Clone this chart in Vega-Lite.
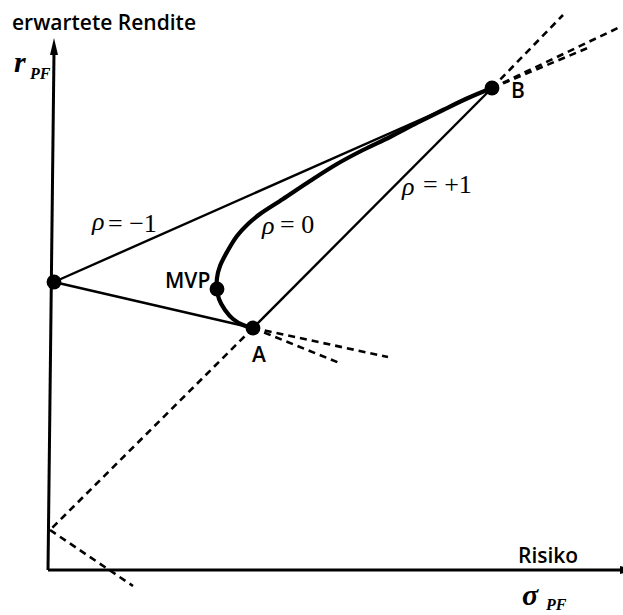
{
  "$schema": "https://vega.github.io/schema/vega-lite/v6.json",
  "width": 623,
  "height": 615,
  "autosize": {"type": "none"},
  "padding": 0,
  "background": "white",
  "config": {"view": {"stroke": null}},
  "datasets": {
    "axes": [
      {"seg": "y", "ord": 0, "x": 0, "y": 0},
      {"seg": "y", "ord": 1, "x": 0.6, "y": 51.8},
      {"seg": "x", "ord": 0, "x": 0, "y": 0},
      {"seg": "x", "ord": 1, "x": 57.5, "y": 0}
    ],
    "arrows": [
      {"dir": "up", "x": 0.6, "y": 52.35},
      {"dir": "right", "x": 58.05, "y": 0}
    ],
    "lines": [
      {"seg": "m1a", "ord": 0, "x": 0.6, "y": 28.8},
      {"seg": "m1a", "ord": 1, "x": 44.4, "y": 48.2},
      {"seg": "m1b", "ord": 0, "x": 0.6, "y": 28.8},
      {"seg": "m1b", "ord": 1, "x": 20.5, "y": 24.2},
      {"seg": "p1", "ord": 0, "x": 20.5, "y": 24.2},
      {"seg": "p1", "ord": 1, "x": 44.4, "y": 48.2}
    ],
    "dashes": [
      {"seg": "d1", "ord": 0, "x": 20.5, "y": 24.2},
      {"seg": "d1", "ord": 1, "x": 0.2, "y": 4.0},
      {"seg": "d1b", "ord": 0, "x": 44.4, "y": 48.2},
      {"seg": "d1b", "ord": 1, "x": 51.5, "y": 55.5},
      {"seg": "d2", "ord": 0, "x": 0.2, "y": 4.0},
      {"seg": "d2", "ord": 1, "x": 8.5, "y": -1.6},
      {"seg": "d3", "ord": 0, "x": 20.5, "y": 24.2},
      {"seg": "d3", "ord": 1, "x": 34.0, "y": 21.3},
      {"seg": "d4", "ord": 0, "x": 20.5, "y": 24.2},
      {"seg": "d4", "ord": 1, "x": 29.4, "y": 20.6},
      {"seg": "d5", "ord": 0, "x": 44.4, "y": 48.2},
      {"seg": "d5", "ord": 1, "x": 57.2, "y": 54.3},
      {"seg": "d6", "ord": 0, "x": 44.4, "y": 48.2},
      {"seg": "d6", "ord": 1, "x": 54.2, "y": 52.3}
    ],
    "curve": [
      {"ord": 0, "x": 20.5, "y": 24.2},
      {"ord": 1, "x": 19.5, "y": 24.5},
      {"ord": 2, "x": 18.5, "y": 25.1},
      {"ord": 3, "x": 17.7, "y": 26.0},
      {"ord": 4, "x": 17.1, "y": 27.1},
      {"ord": 5, "x": 16.9, "y": 28.1},
      {"ord": 6, "x": 16.9, "y": 29.2},
      {"ord": 7, "x": 17.2, "y": 30.4},
      {"ord": 8, "x": 17.9, "y": 31.8},
      {"ord": 9, "x": 18.9, "y": 33.4},
      {"ord": 10, "x": 20.0, "y": 34.6},
      {"ord": 11, "x": 21.2, "y": 35.6},
      {"ord": 12, "x": 23.5, "y": 37.1},
      {"ord": 13, "x": 26.2, "y": 38.9},
      {"ord": 14, "x": 28.9, "y": 40.6},
      {"ord": 15, "x": 31.5, "y": 42.0},
      {"ord": 16, "x": 34.2, "y": 43.3},
      {"ord": 17, "x": 36.9, "y": 44.7},
      {"ord": 18, "x": 39.5, "y": 46.0},
      {"ord": 19, "x": 42.0, "y": 47.2},
      {"ord": 20, "x": 44.4, "y": 48.2}
    ],
    "points": [
      {"name": "L", "x": 0.6, "y": 28.8},
      {"name": "MVP", "x": 16.9, "y": 28.1},
      {"name": "A", "x": 20.5, "y": 24.2},
      {"name": "B", "x": 44.4, "y": 48.2}
    ],
    "sans": [
      {"label": "erwartete Rendite", "x": -3.6, "y": 54.0},
      {"label": "Risiko", "x": 47.0, "y": 0.7},
      {"label": "MVP", "x": 11.7, "y": 28.2},
      {"label": "A", "x": 20.4, "y": 20.8},
      {"label": "B", "x": 46.3, "y": 47.2}
    ],
    "bigItalic": [
      {"label": "r", "x": -3.4, "y": 49.8},
      {"label": "σ", "x": 47.4, "y": -3.5}
    ],
    "subs": [
      {"label": "PF", "x": -1.8, "y": 49.1},
      {"label": "PF", "x": 49.8, "y": -4.0}
    ],
    "rho": [
      {"label": "ρ", "x": 4.4, "y": 34.0},
      {"label": "ρ", "x": 21.4, "y": 33.6},
      {"label": "ρ", "x": 35.4, "y": 37.5}
    ],
    "eqs": [
      {"label": "= −1", "x": 6.0, "y": 33.8},
      {"label": "= 0", "x": 23.2, "y": 33.7},
      {"label": "= +1", "x": 37.5, "y": 37.7}
    ]
  },
  "encoding": {
    "x": {"field": "x", "type": "quantitative", "scale": {"domain": [-4.8, 57.5], "nice": false, "zero": false}, "axis": null},
    "y": {"field": "y", "type": "quantitative", "scale": {"domain": [-4.5, 57], "nice": false, "zero": false}, "axis": null}
  },
  "layer": [
    {
      "data": {"name": "axes"},
      "mark": {"type": "line", "color": "black", "strokeWidth": 3, "clip": false},
      "encoding": {"detail": {"field": "seg"}, "order": {"field": "ord", "type": "quantitative"}}
    },
    {
      "data": {"name": "arrows"},
      "mark": {"type": "point", "filled": true, "color": "black", "opacity": 1, "size": 289},
      "encoding": {
        "shape": {"field": "dir", "type": "nominal", "legend": null,
          "scale": {"domain": ["up", "right"], "range": ["M0,-1L0.47,1L-0.47,1Z", "M1,0L-1,-0.47L-1,0.47Z"]}}
      }
    },
    {
      "data": {"name": "dashes"},
      "mark": {"type": "line", "color": "black", "strokeWidth": 2.6, "strokeDash": [7, 5]},
      "encoding": {"detail": {"field": "seg"}, "order": {"field": "ord", "type": "quantitative"}}
    },
    {
      "data": {"name": "lines"},
      "mark": {"type": "line", "color": "black", "strokeWidth": 2.4},
      "encoding": {"detail": {"field": "seg"}, "order": {"field": "ord", "type": "quantitative"}}
    },
    {
      "data": {"name": "curve"},
      "mark": {"type": "line", "color": "black", "strokeWidth": 4.2, "interpolate": "catmull-rom"},
      "encoding": {"order": {"field": "ord", "type": "quantitative"}}
    },
    {
      "data": {"name": "points"},
      "mark": {"type": "circle", "color": "black", "opacity": 1, "size": 220}
    },
    {
      "data": {"name": "sans"},
      "mark": {"type": "text", "align": "left", "baseline": "alphabetic", "font": "Open Sans", "fontSize": 21, "fontWeight": 600, "color": "black"},
      "encoding": {"text": {"field": "label"}}
    },
    {
      "data": {"name": "bigItalic"},
      "mark": {"type": "text", "align": "left", "baseline": "alphabetic", "font": "Liberation Serif", "fontStyle": "italic", "fontWeight": "bold", "fontSize": 30, "color": "black"},
      "encoding": {"text": {"field": "label"}}
    },
    {
      "data": {"name": "subs"},
      "mark": {"type": "text", "align": "left", "baseline": "alphabetic", "font": "Liberation Serif", "fontStyle": "italic", "fontWeight": "bold", "fontSize": 16, "color": "black"},
      "encoding": {"text": {"field": "label"}}
    },
    {
      "data": {"name": "rho"},
      "mark": {"type": "text", "align": "left", "baseline": "alphabetic", "font": "Liberation Serif", "fontStyle": "italic", "fontSize": 26, "color": "black"},
      "encoding": {"text": {"field": "label"}}
    },
    {
      "data": {"name": "eqs"},
      "mark": {"type": "text", "align": "left", "baseline": "alphabetic", "font": "Liberation Serif", "fontSize": 26, "color": "black"},
      "encoding": {"text": {"field": "label"}}
    }
  ]
}
